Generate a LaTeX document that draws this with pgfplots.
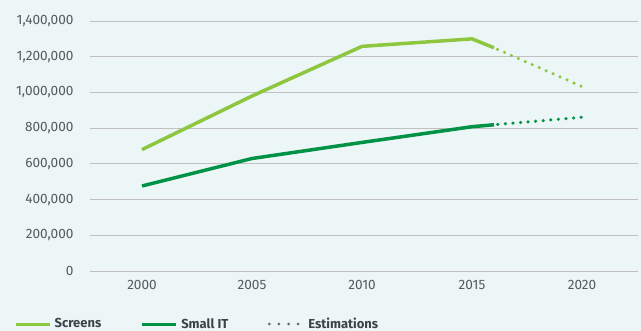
\documentclass[border=0pt]{standalone}
\usepackage{pgfplots}
\pgfplotsset{compat=1.18}
\usepackage{fontspec}
\setmainfont{Fira Sans}
\definecolor{bg}{RGB}{237,246,247}
\definecolor{lgreen}{RGB}{141,198,63}
\definecolor{dgreen}{RGB}{0,146,69}
\definecolor{gridc}{RGB}{192,192,192}
\definecolor{tickc}{RGB}{85,90,95}
\definecolor{legc}{RGB}{60,68,75}
\begin{document}
\begin{tikzpicture}
\fill[bg] (-90bp,-60bp) rectangle (551bp,271bp);
\begin{axis}[
  at={(0,0)}, anchor=south west,
  scale only axis, width=548bp, height=250bp,
  xmin=1997.636, xmax=2022.545,
  ymin=0, ymax=1400000,
  axis line style={draw=none},
  major tick length=0pt,
  xtick={2000,2005,2010,2015,2020},
  xticklabels={2000,2005,2010,2015,2020},
  ytick={0,200000,400000,600000,800000,1000000,1200000,1400000},
  yticklabels={0,{200,000},{400,000},{600,000},{800,000},{1,000,000},{1,200,000},{1,400,000}},
  scaled y ticks=false,
  ymajorgrids,
  major grid style={gridc, line width=0.9bp},
  tick label style={font=\fontsize{13.6bp}{16bp}\selectfont, text=tickc},
  yticklabel style={anchor=east, xshift=-13bp},
  xticklabel style={anchor=center, yshift=-14bp},
  legend columns=3,
  legend style={at={(rel axis cs:-0.1387,-0.212)}, anchor=west, draw=none, fill=none,
    inner sep=0pt, font=\bfseries\fontsize{13bp}{16bp}\selectfont, text=legc,
    nodes={inner xsep=3.5bp},
    /tikz/every even column/.append style={column sep=36bp}},
  legend image code/.code={\draw[#1] (0bp,0bp) -- (34bp,0bp);},
]
\addlegendimage{lgreen, line width=3bp}
\addlegendentry{Screens}
\addlegendimage{dgreen, line width=3bp}
\addlegendentry{Small IT}
\addlegendimage{legc!80, line width=3bp, line cap=round, dash pattern=on 0pt off 9.6bp}
\addlegendentry{Estimations}

\addplot[forget plot, lgreen, line width=3.5bp, line join=round] coordinates {
(2000,680000) (2005,980000) (2010,1258000) (2015,1300000) (2016,1250000)};
\addplot[forget plot, lgreen, line width=3.5bp, line cap=round, dash pattern=on 0pt off 7.6bp, dash phase=3.8bp] coordinates {
(2016,1250000) (2020,1033000)};
\addplot[forget plot, dgreen, line width=3.5bp, line join=round] coordinates {
(2000,476000) (2005,630000) (2010,720000) (2015,808000) (2016,819000)};
\addplot[forget plot, dgreen, line width=3.5bp, line cap=round, dash pattern=on 0pt off 7.6bp, dash phase=3.8bp] coordinates {
(2016,819000) (2020,861000)};
\end{axis}
\pgfresetboundingbox
\path[use as bounding box] (-90bp,-60bp) rectangle (551bp,271bp);
\end{tikzpicture}
\end{document}
